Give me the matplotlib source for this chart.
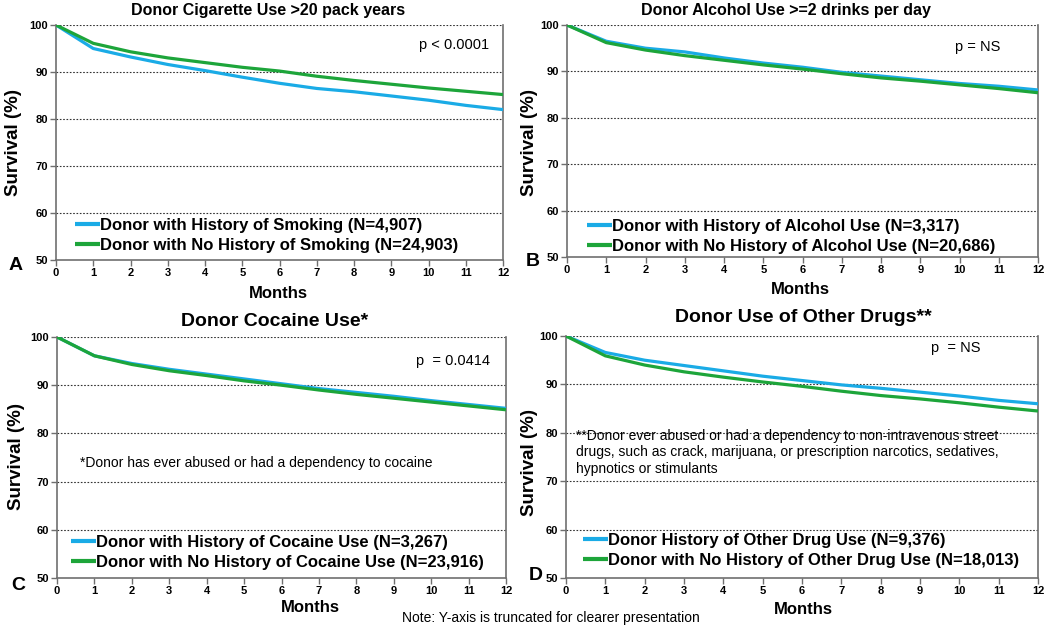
import matplotlib
matplotlib.use("Agg")
import matplotlib.pyplot as plt

plt.rcParams['font.family'] = ['Liberation Sans', 'DejaVu Sans']

months = list(range(13))

# Panel A
a_smoke = [100, 95.0, 93.2, 91.6, 90.3, 88.9, 87.6, 86.5, 85.8, 84.9, 84.0, 82.9, 82.0]
a_nosmoke = [100, 96.1, 94.3, 93.0, 92.0, 91.0, 90.2, 89.1, 88.2, 87.4, 86.6, 85.9, 85.2]
# Panel B
b_alc = [100, 96.5, 95.0, 94.2, 92.9, 91.8, 90.9, 89.8, 89.0, 88.2, 87.4, 86.8, 86.0]
b_noalc = [100, 96.2, 94.6, 93.4, 92.4, 91.4, 90.5, 89.5, 88.6, 87.9, 87.1, 86.3, 85.4]
# Panel C
c_coc = [100, 96.1, 94.5, 93.3, 92.3, 91.3, 90.3, 89.3, 88.5, 87.7, 86.8, 86.0, 85.2]
c_nococ = [100, 96.1, 94.3, 93.0, 92.0, 90.9, 90.0, 89.0, 88.1, 87.3, 86.5, 85.7, 84.9]
# Panel D
d_drug = [100, 96.6, 95.0, 93.9, 92.8, 91.7, 90.8, 89.9, 89.2, 88.4, 87.6, 86.7, 86.0]
d_nodrug = [100, 95.9, 94.0, 92.6, 91.5, 90.5, 89.6, 88.6, 87.7, 87.0, 86.2, 85.3, 84.5]

titles = ["Donor Cigarette Use >20 pack years", "Donor Alcohol Use >=2 drinks per day",
          "Donor Cocaine Use*", "Donor Use of Other Drugs**"]
labels_a = ["Donor with History of Smoking (N=4,907)", "Donor with No History of Smoking (N=24,903)"]
labels_b = ["Donor with History of Alcohol Use (N=3,317)", "Donor with No History of Alcohol Use (N=20,686)"]
labels_c = ["Donor with History of Cocaine Use (N=3,267)", "Donor with No History of Cocaine Use (N=23,916)"]
labels_d = ["Donor History of Other Drug Use (N=9,376)", "Donor with No History of Other Drug Use (N=18,013)"]
pvals = ["p < 0.0001", "p = NS", "p  = 0.0414", "p  = NS"]
yticks = [50, 60, 70, 80, 90, 100]

BLUE = '#1AABE6'
GREEN = '#1DA53A'
W, H = 1050, 629

fig = plt.figure(figsize=(W / 100, H / 100), dpi=100)

def px_axes(l, t, r, b):
    return fig.add_axes([l / W, 1 - b / H, (r - l) / W, (b - t) / H])

def ftext(x, y, s, **kw):
    fig.text(x / W, 1 - y / H, s, **kw)

boxes = [(56, 25, 503, 260), (567, 25, 1038, 257), (57, 337, 506, 578), (566, 336, 1038, 578)]
series = [(a_smoke, a_nosmoke, labels_a), (b_alc, b_noalc, labels_b),
          (c_coc, c_nococ, labels_c), (d_drug, d_nodrug, labels_d)]
ppos = [(0.89, 0.915), (0.873, 0.905), (0.882, 0.90), (0.826, 0.95)]
# legend: (left px of handle, y px of lower row centre)
leg_px = [(75, 244), (587, 245), (71, 561), (583, 559)]

axes = []
for i, (box, (s1, s2, labs)) in enumerate(zip(boxes, series)):
    ax = px_axes(*box)
    axes.append(ax)
    l1, = ax.plot(months, s1, color=BLUE, lw=2.3, solid_capstyle='butt', zorder=3)
    l2, = ax.plot(months, s2, color=GREEN, lw=2.3, solid_capstyle='butt', zorder=3)
    ax.set_xlim(0, 12)
    ax.set_ylim(50, 100)
    ax.set_xticks(months)
    ax.set_yticks(yticks)
    for y in [60, 70, 80, 90, 100]:
        ax.axhline(y, color='#333333', lw=0.8, ls=(0, (1.5, 1.5)), zorder=1)
    for sp in ax.spines.values():
        sp.set_color('#6f6f6f')
        sp.set_linewidth(1.2)
    ax.spines['top'].set_visible(False)
    ax.tick_params(axis='x', direction='out', length=4, width=1, color='#6f6f6f', pad=2)
    ax.tick_params(axis='y', direction='out', length=4, width=1, color='#6f6f6f', pad=2)
    for t in ax.get_xticklabels() + ax.get_yticklabels():
        t.set_fontsize(8)
        t.set_fontweight('bold')
    ax.text(ppos[i][0], ppos[i][1], pvals[i], transform=ax.transAxes, ha='center', va='center', fontsize=10.5)
    l, t, r, b = box
    lx, ly = leg_px[i]
    ax_x = (lx - l) / (r - l)
    ax_y = (b - ly - 9) / (b - t)
    leg = ax.legend([l1, l2], labs, loc='lower left', bbox_to_anchor=(ax_x, ax_y), frameon=False,
                    prop={'size': 12, 'weight': 'bold'}, handlelength=1.5, handletextpad=0.0,
                    labelspacing=0.32, borderaxespad=0.0, borderpad=0.0)
    for h in leg.legend_handles:
        h.set_linewidth(3)

# titles
ftext(268, 11, titles[0], ha='center', va='center', fontsize=11.5, fontweight='bold')
ftext(786, 11, titles[1], ha='center', va='center', fontsize=11.5, fontweight='bold')
ftext(275, 322, titles[2], ha='center', va='center', fontsize=14, fontweight='bold')
ftext(803, 318, titles[3], ha='center', va='center', fontsize=14, fontweight='bold')

# y labels
for (x, y) in [(14, 142), (530, 142), (17, 457), (530, 463)]:
    ftext(x, y, "Survival (%)", rotation=90, ha='center', va='center', fontsize=13.5, fontweight='bold')
# x labels
for (x, y) in [(278, 293), (800, 290), (310, 608), (803, 610)]:
    ftext(x, y, "Months", ha='center', va='center', fontsize=12, fontweight='bold')

# panel letters
for (x, y, s) in [(16, 266, 'A'), (533, 262, 'B'), (18, 585, 'C'), (536, 576, 'D')]:
    ftext(x, y, s, ha='center', va='center', fontsize=14, fontweight='bold')

# annotations
axes[2].text(0.051, 0.477, "*Donor has ever abused or had a dependency to cocaine",
             transform=axes[2].transAxes, ha='left', va='center', fontsize=10)
axes[3].text(0.021, 0.615, "**Donor ever abused or had a dependency to non-intravenous street\n"
             "drugs, such as crack, marijuana, or prescription narcotics, sedatives,\n"
             "hypnotics or stimulants",
             transform=axes[3].transAxes, ha='left', va='top', fontsize=10, linespacing=1.2)

ftext(551, 618, "Note: Y-axis is truncated for clearer presentation", ha='center', va='center', fontsize=10)

fig.savefig('out.png', dpi=100)
